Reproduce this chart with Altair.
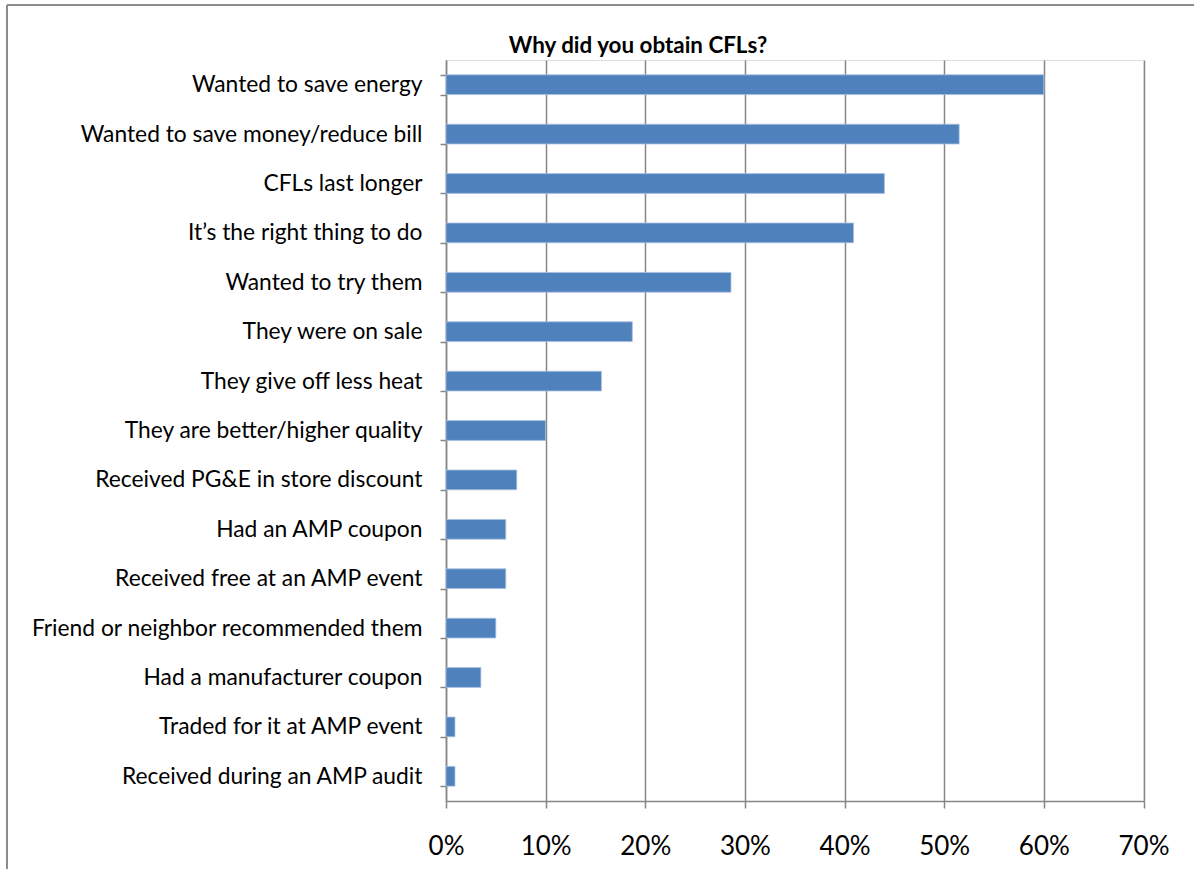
import altair as alt
import pandas as pd

# Survey responses, top to bottom
reasons = [
    "Wanted to save energy",
    "Wanted to save money/reduce bill",
    "CFLs last longer",
    "It\u2019s the right thing to do",
    "Wanted to try them",
    "They were on sale",
    "They give off less heat",
    "They are better/higher quality",
    "Received PG&E in store discount",
    "Had an AMP coupon",
    "Received free at an AMP event",
    "Friend or neighbor recommended them",
    "Had a manufacturer coupon",
    "Traded for it at AMP event",
    "Received during an AMP audit",
]
shares = [0.600, 0.515, 0.440, 0.409, 0.286, 0.187, 0.156, 0.100,
          0.071, 0.060, 0.060, 0.050, 0.035, 0.009, 0.009]
x_ticks = [0, 0.1, 0.2, 0.3, 0.4, 0.5, 0.6, 0.7]
chart_title = "Why did you obtain CFLs?"

df = pd.DataFrame({"reason": reasons, "share": shares})

FONT = "Lato"
GRAY = "#868686"

bars = alt.Chart(df).mark_bar(
    color="#4F81BD", stroke="#a9c0df", strokeWidth=0.8
).encode(
    x=alt.X(
        "share:Q",
        scale=alt.Scale(domain=[0, 0.7], nice=False),
        axis=alt.Axis(
            values=x_ticks, format=".0%", title=None,
            grid=True, gridColor=GRAY, gridWidth=1.5,
            domainColor=GRAY, domainWidth=1.5,
            tickColor=GRAY, tickSize=7, tickWidth=1.5,
            labelFont=FONT, labelFontSize=26, labelColor="#000000",
            labelBaseline="middle", labelPadding=38,
            labelFlush=False, labelAlign="center",
        ),
    ),
    y=alt.Y(
        "reason:N",
        sort=reasons,
        scale=alt.Scale(paddingInner=0.6, paddingOuter=0.3),
        axis=alt.Axis(
            title=None, tickBand="extent",
            domainColor=GRAY, domainWidth=1.5,
            tickColor=GRAY, tickSize=6, tickWidth=1.5,
            labelFont=FONT, labelFontSize=22.8, labelColor="#000000",
            labelPadding=18, labelLimit=500,
        ),
    ),
)

one = pd.DataFrame({"k": [0]})

# Chart title, set above the plot area
title = alt.Chart(one).mark_text(
    text=chart_title, font=FONT, fontSize=22.4, fontWeight="bold",
    color="#000000", align="center", baseline="alphabetic",
).encode(x=alt.value(192), y=alt.value(-7))

# Chart-area frame (top and left edges)
frame_top = alt.Chart(one).mark_rule(color="#8c8c8c", strokeWidth=2).encode(
    x=alt.value(-439), x2=alt.value(760), y=alt.value(-55)
)
frame_left = alt.Chart(one).mark_rule(color="#8c8c8c", strokeWidth=2).encode(
    x=alt.value(-439), y=alt.value(-55), y2=alt.value(820)
)

chart = alt.layer(bars, title, frame_top, frame_left).properties(
    width=697.5,
    height=741,
    autosize=alt.AutoSizeParams(type="none"),
    padding={"left": 446, "top": 60, "right": 50, "bottom": 68},
).configure_view(stroke=None).configure(background="#ffffff")

chart.save("out.html", embed_options={"renderer": "svg", "actions": False})
